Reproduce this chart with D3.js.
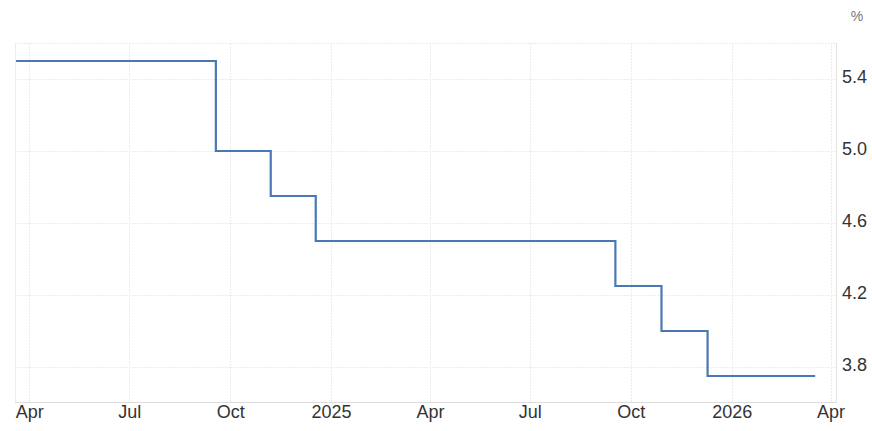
<!DOCTYPE html>
<html>
<head>
<meta charset="utf-8">
<script src="https://cdn.jsdelivr.net/npm/d3@7"></script>
<style>
body { margin: 0; background: #fff; }
text { font-family: "Liberation Sans", Arial, sans-serif; }
</style>
</head>
<body>
<script>
// DATA
var rate_dates = ["2024-03-20", "2024-09-18", "2024-11-07", "2024-12-18", "2025-09-17", "2025-10-29", "2025-12-10", "2026-03-18"];
var rate_values = [5.5, 5.0, 4.75, 4.5, 4.25, 4.0, 3.75, 3.75];
var y_ticks = [3.8, 4.2, 4.6, 5.0, 5.4];
var x_ticks = ["2024-04-01", "2024-07-01", "2024-10-01", "2025-01-01", "2025-04-01", "2025-07-01", "2025-10-01", "2026-01-01", "2026-04-01"];
var x_tick_labels = ["Apr", "Jul", "Oct", "2025", "Apr", "Jul", "Oct", "2026", "Apr"];

var width = 872, height = 431;
var plot = {left: 15, right: 836, top: 43, bottom: 403};

var parse = d3.timeParse("%Y-%m-%d");
var series = rate_dates.map(function(d, i){ return {"date": parse(d), "value": rate_values[i]}; });

var x = d3.scaleTime()
	.domain([parse("2024-03-19"), parse("2026-04-06")])
	.range([plot.left, plot.right]);

var y = d3.scaleLinear()
	.domain([3.6, 5.6])
	.range([plot.bottom, plot.top]);

var svg = d3.select("body").append("svg")
	.attr("width", width)
	.attr("height", height);

// grid
svg.append("g").selectAll("line")
	.data(y_ticks.concat([5.6]))
	.enter().append("line")
	.attr("x1", plot.left).attr("x2", plot.right)
	.attr("y1", function(d){ return Math.round(y(d)) + 0.5; })
	.attr("y2", function(d){ return Math.round(y(d)) + 0.5; })
	.attr("stroke", "#ececec")
	.attr("stroke-dasharray", "2,1");

svg.append("g").selectAll("line")
	.data(x_ticks)
	.enter().append("line")
	.attr("x1", function(d){ return Math.round(x(parse(d))) + 0.5; })
	.attr("x2", function(d){ return Math.round(x(parse(d))) + 0.5; })
	.attr("y1", plot.top).attr("y2", plot.bottom)
	.attr("stroke", "#ececec")
	.attr("stroke-dasharray", "2,1");

// borders
svg.append("line")
	.attr("x1", plot.left + 0.5).attr("x2", plot.left + 0.5)
	.attr("y1", plot.top).attr("y2", plot.bottom)
	.attr("stroke", "#ececec");
svg.append("line")
	.attr("x1", plot.right + 0.5).attr("x2", plot.right + 0.5)
	.attr("y1", plot.top).attr("y2", plot.bottom)
	.attr("stroke", "#e2e2e2");
svg.append("line")
	.attr("x1", plot.left).attr("x2", plot.right)
	.attr("y1", plot.bottom - 0.5).attr("y2", plot.bottom - 0.5)
	.attr("stroke", "#dcdcdc");

// axes labels
var x_axis = d3.axisBottom(x)
	.tickValues(x_ticks.map(parse))
	.tickFormat(function(d, i){ return x_tick_labels[i]; })
	.tickSize(0)
	.tickPadding(2);

var gx = svg.append("g")
	.attr("transform", "translate(0," + plot.bottom + ")")
	.call(x_axis);
gx.select(".domain").remove();
gx.selectAll("text")
	.attr("font-size", "18px")
	.attr("fill", "#333")
	.attr("font-family", "Liberation Sans, Arial, sans-serif");

var y_axis = d3.axisRight(y)
	.tickValues(y_ticks)
	.tickFormat(d3.format(".1f"))
	.tickSize(0)
	.tickPadding(6);

var gy = svg.append("g")
	.attr("transform", "translate(" + plot.right + ",0)")
	.call(y_axis);
gy.select(".domain").remove();
gy.selectAll("text")
	.attr("font-size", "18px")
	.attr("fill", "#333")
	.attr("dy", "3px")
	.attr("font-family", "Liberation Sans, Arial, sans-serif");

svg.append("text")
	.attr("x", 857).attr("y", 21)
	.attr("text-anchor", "middle")
	.attr("font-size", "14px")
	.attr("fill", "#777")
	.text("%");

// line
var line = d3.line()
	.x(function(d){ return x(d.date); })
	.y(function(d){ return y(d.value); })
	.curve(d3.curveStepAfter);

svg.append("path")
	.datum(series)
	.attr("d", line)
	.attr("fill", "none")
	.attr("stroke", "#4a78b4")
	.attr("stroke-width", 2.2);
</script>
</body>
</html>
